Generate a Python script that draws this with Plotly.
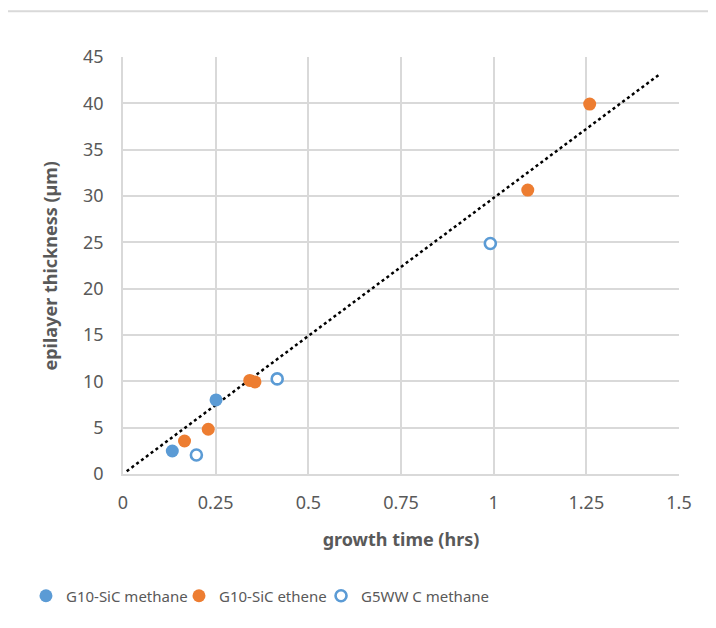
import numpy as np
import plotly.graph_objects as go

# ---- data ----
methane_x = [0.133, 0.251]
methane_y = [2.48, 7.99]

ethene_x = [0.166, 0.230, 0.342, 0.356, 1.092, 1.259]
ethene_y = [3.56, 4.83, 10.10, 9.94, 30.64, 39.92]

g5ww_x = [0.198, 0.416, 0.991]
g5ww_y = [2.05, 10.26, 24.87]

trend_x_range = [0.01, 1.45]

x_tick_vals = [0, 0.25, 0.5, 0.75, 1, 1.25, 1.5]
x_tick_text = ["0", "0.25", "0.5", "0.75", "1", "1.25", "1.5"]
y_tick_vals = [0, 5, 10, 15, 20, 25, 30, 35, 40, 45]
y_tick_text = [str(v) for v in y_tick_vals]

# linear trendline through the origin, fitted to the ethene series
ex = np.array(ethene_x)
ey = np.array(ethene_y)
slope = float((ex * ey).sum() / (ex * ex).sum())
trend_x = np.array(trend_x_range)
trend_y = slope * trend_x

BLUE = "#5B9BD5"
ORANGE = "#ED7D31"
TXT = "#595959"
GRID = "#D9D9D9"
FONT = "Noto Sans"

fig = go.Figure()

fig.add_trace(go.Scatter(
    x=trend_x, y=trend_y, mode="lines", showlegend=False, hoverinfo="skip",
    line=dict(color="black", width=2.5, dash="dot"),
))
fig.add_trace(go.Scatter(
    x=methane_x, y=methane_y, mode="markers", name="G10-SiC methane", legend="legend",
    marker=dict(symbol="circle", size=13, color=BLUE, line=dict(width=0)),
))
fig.add_trace(go.Scatter(
    x=ethene_x, y=ethene_y, mode="markers", name="G10-SiC ethene", legend="legend2",
    marker=dict(symbol="circle", size=13, color=ORANGE, line=dict(width=0)),
))
fig.add_trace(go.Scatter(
    x=g5ww_x, y=g5ww_y, mode="markers", name="G5WW C methane", legend="legend3",
    marker=dict(symbol="circle", size=11, color="white", line=dict(width=2.6, color=BLUE)),
))


def leg(xpos):
    return dict(
        orientation="h", xref="container", yref="container",
        x=xpos, xanchor="left", y=0.0637, yanchor="middle",
        font=dict(family=FONT, size=15, color=TXT),
        bgcolor="rgba(0,0,0,0)",
    )


fig.update_layout(
    width=716, height=628,
    margin=dict(l=115, r=45, t=49, b=162),
    paper_bgcolor="white", plot_bgcolor="white",
    font=dict(family=FONT, color=TXT, size=17),
    showlegend=True,
    legend=leg(0.0251),
    legend2=leg(0.2388),
    legend3=leg(0.4372),
    xaxis=dict(
        range=[0, 1.5], tickvals=x_tick_vals, ticktext=x_tick_text,
        showgrid=True, gridcolor=GRID, gridwidth=1.5,
        showline=True, linecolor=GRID, linewidth=1.5,
        zeroline=False, ticks="", ticklabelstandoff=12,
        tickfont=dict(family=FONT, size=18, color=TXT),
        title=dict(text="growth time (hrs)", standoff=20,
                   font=dict(family=FONT, size=18, color=TXT, weight="bold")),
    ),
    yaxis=dict(
        range=[0, 45], tickvals=y_tick_vals, ticktext=y_tick_text,
        showgrid=True, gridcolor=GRID, gridwidth=1.5,
        showline=True, linecolor=GRID, linewidth=1.5,
        zeroline=False, ticks="", ticklabelstandoff=14,
        tickfont=dict(family=FONT, size=18, color=TXT),
    ),
    annotations=[dict(
        text="epilayer thickness (µm)", textangle=-90,
        xref="paper", yref="paper", x=-0.1313, y=0.5,
        xanchor="center", yanchor="middle", showarrow=False,
        font=dict(family=FONT, size=18, color=TXT, weight="bold"),
    )],
    shapes=[dict(
        type="rect", xref="paper", yref="paper",
        x0=-0.2113, x1=1.3, y0=-0.6, y1=1.110,
        line=dict(color=GRID, width=2), fillcolor="rgba(0,0,0,0)", layer="below",
    )],
)

fig.write_html("out.html")
